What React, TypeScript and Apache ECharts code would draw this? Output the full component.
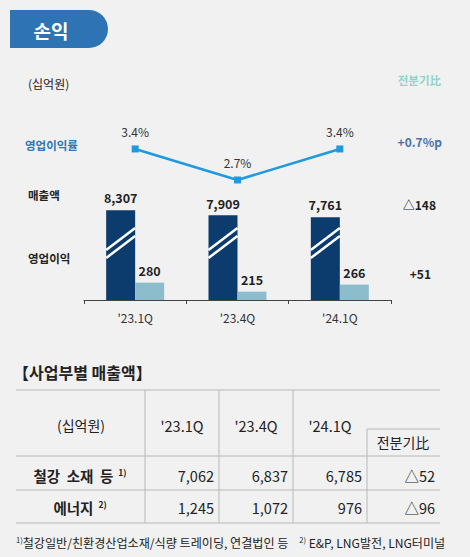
import React, { useEffect, useRef } from "react";
import * as echarts from "echarts";

// ---- data ----
const quarters = ["'23.1Q", "'23.4Q", "'24.1Q"];
const revenue = [8307, 7909, 7761];
const opIncome = [280, 215, 266];
const opMargin = [3.4, 2.7, 3.4];
const qoqMargin = "+0.7%p";
const qoqRevenue = "△148";
const qoqOpIncome = "+51";

const tableHeader = ["(십억원)", "'23.1Q", "'23.4Q", "'24.1Q", "전분기比"];
const segmentNames = ["철강  소재  등", "에너지"];
const segmentNotes = ["1)", "2)"];
const steelValues = [7062, 6837, 6785];
const energyValues = [1245, 1072, 976];
const segmentQoq = ["△52", "△96"];
const footnote1 = "철강일반/친환경산업소재/식량 트레이딩, 연결법인 등";
const footnote2 = "E&P, LNG발전, LNG터미널";

const FONT = '"Noto Sans CJK KR", "Noto Sans", sans-serif';
const fmt = (v: number) => v.toLocaleString("en-US");

function txt(x: number, y: number, text: string, o: any = {}) {
  const align = o.align ?? "left";
  return {
    type: "text",
    x,
    y,
    silent: true,
    z: 10,
    style: {
      text,
      fontFamily: FONT,
      fontSize: o.size ?? 12,
      fontWeight: o.weight ?? "normal",
      fill: o.color ?? "#222",
      align,
      textAlign: align,
      verticalAlign: "middle",
      textVerticalAlign: "middle",
      rich: o.rich,
    },
  };
}

function hline(x1: number, x2: number, y: number) {
  return {
    type: "line",
    silent: true,
    shape: { x1, y1: y, x2, y2: y },
    style: { stroke: "#b8b8b8", lineWidth: 1 },
  };
}
function vline(x: number, y1: number, y2: number) {
  return {
    type: "line",
    silent: true,
    shape: { x1: x, y1, x2: x, y2 },
    style: { stroke: "#b8b8b8", lineWidth: 1 },
  };
}

export default function App() {
  const ref = useRef<HTMLDivElement>(null);
  useEffect(() => {
    if (!ref.current) return;
    const chart = echarts.init(ref.current, undefined, { renderer: "svg" });
    const BAR_W = 29;
    const REV_MIN = 1300;

    const supRich = {
      b: { fontFamily: FONT, fontSize: 14.5, fontWeight: "bold", fill: "#222", color: "#222" },
      s: {
        fontFamily: FONT,
        fontSize: 8.5,
        fontWeight: "bold",
        fill: "#222",
        color: "#222",
        verticalAlign: "top",
        padding: [0, 0, 0, 5],
      },
    };
    const footRich = {
      n: { fontFamily: FONT, fontSize: 12.1, fill: "#222", color: "#222" },
      s: { fontFamily: FONT, fontSize: 7.5, fill: "#222", color: "#222", verticalAlign: "top" },
    };

    const colRight = [214, 288, 362, 435];
    const headerX = [81, 182, 256, 330];
    const rowY = [475, 507];
    const rowsValues = [steelValues, energyValues];

    const graphics: any[] = [
      {
        type: "rect",
        silent: true,
        shape: { x: 10, y: 10, width: 98, height: 38, r: [0, 19, 19, 0] },
        style: { fill: "#2e74b5" },
      },
      txt(51, 30, "손익", { size: 19, weight: "bold", color: "#fff", align: "center" }),
      txt(28, 83, "(십억원)", { size: 12, color: "#222" }),
      txt(441, 80, "전분기比", { size: 11.5, color: "#8fd4c7", align: "right", weight: "bold" }),
      txt(25, 145, "영업이익률", { size: 11.5, weight: "bold", color: "#2e74b5" }),
      txt(442, 141, qoqMargin, { size: 12, weight: "bold", color: "#4a72a8", align: "right" }),
      txt(28, 195, "매출액", { size: 11.5, weight: "bold", color: "#222" }),
      txt(28, 258, "영업이익", { size: 11.5, weight: "bold", color: "#222" }),
      txt(436, 204, qoqRevenue, { size: 12, weight: "bold", color: "#222", align: "right" }),
      txt(431, 273, qoqOpIncome, { size: 12, weight: "bold", color: "#222", align: "right" }),
      // table
      txt(13, 372, "【사업부별 매출액】", { size: 16, weight: "bold", color: "#222" }),
      hline(16, 440, 390),
      hline(16, 440, 456),
      hline(16, 440, 490),
      hline(16, 440, 523),
      hline(367, 440, 429),
      vline(145, 390, 523),
      vline(219, 390, 523),
      vline(293, 390, 523),
      vline(367, 429, 523),
      txt(headerX[0], 425, tableHeader[0], { size: 14, align: "center" }),
      txt(headerX[1], 425, tableHeader[1], { size: 14.5, align: "center" }),
      txt(headerX[2], 425, tableHeader[2], { size: 14.5, align: "center" }),
      txt(headerX[3], 425, tableHeader[3], { size: 14.5, align: "center" }),
      txt(403, 442, tableHeader[4], { size: 14, align: "center" }),
      txt(16, 542, `{s|1)}{n|${footnote1}}    {s|2)} {n|${footnote2}}`, { rich: footRich, size: 12.1 }),
    ];

    segmentNames.forEach((name, r) => {
      graphics.push(
        txt(80, rowY[r], `{b|${name}}{s|${segmentNotes[r]}}`, { rich: supRich, size: 14.5, weight: "bold", align: "center" })
      );
      rowsValues[r].forEach((v, c) => {
        graphics.push(txt(colRight[c], rowY[r], fmt(v), { size: 14.5, align: "right" }));
      });
      graphics.push(txt(colRight[3], rowY[r], segmentQoq[r], { size: 14.5, align: "right" }));
    });

    const option: any = {
      animation: false,
      backgroundColor: "#f1f1f1",
      textStyle: { fontFamily: FONT },
      grid: [
        { left: 84, right: 79, top: 180, height: 120 },
        { left: 84, right: 79, top: 130, height: 60 },
      ],
      xAxis: [
        {
          type: "category",
          gridIndex: 0,
          data: quarters,
          axisLine: { lineStyle: { color: "#444", width: 1 } },
          axisTick: { show: true, length: 4, lineStyle: { color: "#444" } },
          axisLabel: { margin: 11, color: "#333", fontSize: 12, fontFamily: FONT },
        },
        { type: "category", gridIndex: 1, data: quarters, show: false },
      ],
      yAxis: [
        { type: "value", gridIndex: 0, min: REV_MIN, max: 10660, show: false },
        { type: "value", gridIndex: 0, min: 155, max: 1019, show: false },
        { type: "value", gridIndex: 1, min: 2.474, max: 3.828, show: false },
      ],
      series: [
        {
          type: "bar",
          name: "매출액",
          xAxisIndex: 0,
          yAxisIndex: 0,
          data: revenue,
          barWidth: BAR_W,
          barGap: "0%",
          itemStyle: { color: "#0c3c6d" },
          label: {
            show: true,
            position: "top",
            distance: 6,
            formatter: (p: any) => fmt(p.value),
            fontFamily: FONT,
            fontSize: 12.5,
            fontWeight: "bold",
            color: "#222",
          },
        },
        {
          type: "bar",
          name: "영업이익",
          xAxisIndex: 0,
          yAxisIndex: 1,
          data: opIncome,
          barWidth: BAR_W,
          barGap: "0%",
          itemStyle: { color: "#8dbdcd" },
          label: {
            show: true,
            position: "top",
            distance: 6,
            fontFamily: FONT,
            fontSize: 12.5,
            fontWeight: "bold",
            color: "#222",
          },
        },
        {
          type: "custom",
          xAxisIndex: 0,
          yAxisIndex: 0,
          silent: true,
          z: 5,
          data: revenue.map((v, i) => [i, v]),
          renderItem: (_p: any, api: any) => {
            const i = api.value(0);
            const base = api.coord([i, REV_MIN]);
            const cx = base[0];
            const by = base[1];
            const x0 = cx - BAR_W;
            const x1 = cx;
            const mk = (dy: number) => ({
              type: "line",
              shape: { x1: x0, y1: by - dy, x2: x1, y2: by - dy - 22 },
              style: { stroke: "#ffffff", lineWidth: 2.5 },
            });
            return { type: "group", children: [mk(50), mk(42)] };
          },
        },
        {
          type: "line",
          name: "영업이익률",
          xAxisIndex: 1,
          yAxisIndex: 2,
          data: opMargin,
          symbol: "rect",
          symbolSize: 7,
          lineStyle: { color: "#1f9ae0", width: 2.5 },
          itemStyle: { color: "#1f9ae0" },
          label: {
            show: true,
            position: "top",
            distance: 8,
            formatter: "{c}%",
            fontFamily: FONT,
            fontSize: 12,
            color: "#333",
          },
        },
      ],
      graphic: graphics,
    };
    chart.setOption(option);
    return () => chart.dispose();
  }, []);
  return (
    <div
      ref={ref}
      style={{ position: "absolute", left: 0, top: 0, width: 470, height: 557 }}
    />
  );
}
